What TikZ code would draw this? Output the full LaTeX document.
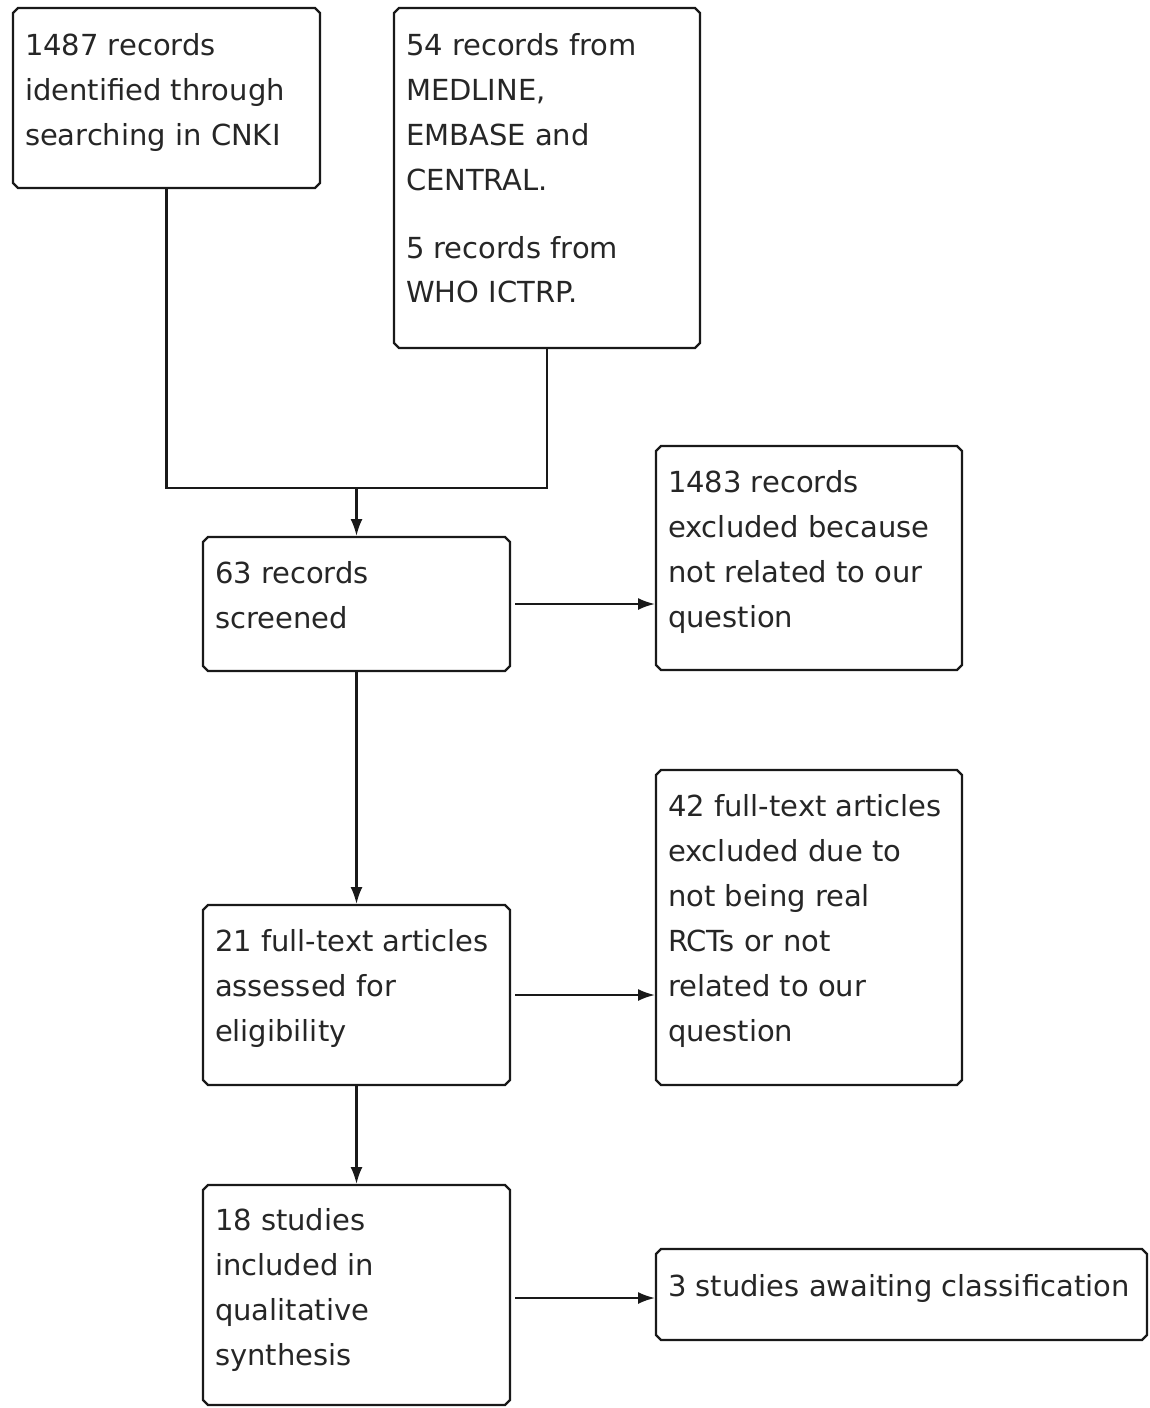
\documentclass[tikz,border=0pt]{standalone}
\usepackage{fontspec}
\setmainfont{DejaVu Sans}
\usetikzlibrary{arrows.meta}
\newcommand\chbox[1]{%
  \draw[boxline] ([xshift=5pt]#1.north west) -- ([xshift=-5pt]#1.north east)
    -- ([yshift=-5pt]#1.north east) -- ([yshift=5pt]#1.south east)
    -- ([xshift=-5pt]#1.south east) -- ([xshift=5pt]#1.south west)
    -- ([yshift=5pt]#1.south west) -- ([yshift=-5pt]#1.north west) -- cycle;}
\newcommand\boxtext[3]{%
  \node[txt] at (#1,#2) {\parbox[t]{480pt}{\raggedright #3}};}
\begin{document}
\begin{tikzpicture}[x=1pt,y=-1pt,
  frame/.style={rectangle,draw=none,inner sep=0pt,outer sep=0pt},
  boxline/.style={line width=2.2pt,black!90},
  conn/.style={line width=2.2pt,black!90,line join=miter},
  arr/.style={conn,-{Latex[length=17pt,width=12pt]},shorten >=1pt},
  txt/.style={anchor=base west,inner sep=0pt,outer sep=0pt,font=\fontsize{29pt}{45pt}\selectfont,text=black!85}]
\useasboundingbox (0,0) rectangle (1149,1408);
% box frames
\node[frame,minimum width=307pt,minimum height=180pt] (A) at (166.5,98) {};
\node[frame,minimum width=306pt,minimum height=340pt] (B) at (547,178) {};
\node[frame,minimum width=307pt,minimum height=134pt] (C) at (356.5,604) {};
\node[frame,minimum width=306pt,minimum height=224pt] (D) at (809,558) {};
\node[frame,minimum width=307pt,minimum height=180pt] (E) at (356.5,995) {};
\node[frame,minimum width=306pt,minimum height=315pt] (F) at (809,927.5) {};
\node[frame,minimum width=307pt,minimum height=220pt] (G) at (356.5,1295) {};
\node[frame,minimum width=491pt,minimum height=91pt] (H) at (901.5,1294.5) {};
\chbox{A}\chbox{B}\chbox{C}\chbox{D}\chbox{E}\chbox{F}\chbox{G}\chbox{H}
% texts
\boxtext{25}{55}{1487 records\\identified through\\searching in CNKI}
\boxtext{406}{55}{54 records from\\MEDLINE,\\EMBASE and\\CENTRAL.\\[23pt]5 records from\\WHO ICTRP.}
\boxtext{215}{583}{63 records\\screened}
\boxtext{668}{492}{1483 records\\excluded because\\not related to our\\question}
\boxtext{215}{951}{21 full-text articles\\assessed for\\eligibility}
\boxtext{668}{816}{42 full-text articles\\excluded due to\\not being real\\RCTs or not\\related to our\\question}
\boxtext{215}{1230}{18 studies\\included in\\qualitative\\synthesis}
\boxtext{668}{1296}{3 studies awaiting classification}
% connectors
\coordinate (J) at (356.5,488);
\draw[conn] (A.south) |- (J) -| (B.south);
\draw[arr] (J) -- (C.north);
\draw[arr,shorten <=5pt] (C.east) -- (C.east -| D.west);
\draw[arr] (C.south) -- (E.north);
\draw[arr,shorten <=5pt] (E.east) -- (E.east -| F.west);
\draw[arr] (E.south) -- (G.north);
\draw[arr,shorten <=5pt] ([yshift=-3pt]G.east) -- ([yshift=-3pt]G.east -| H.west);
\end{tikzpicture}
\end{document}
